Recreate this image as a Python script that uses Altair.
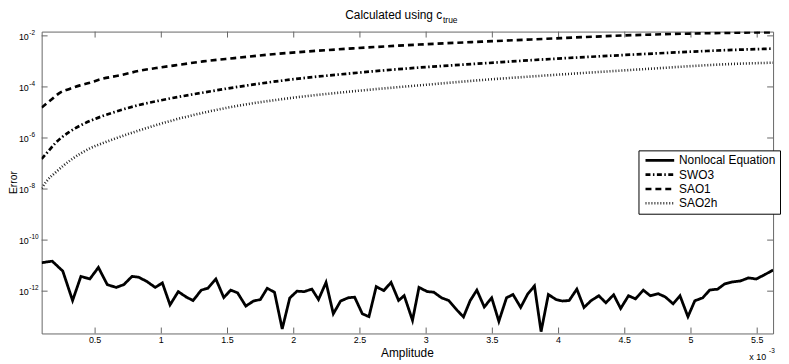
import altair as alt
import pandas as pd

# ---------------- data ----------------
series_order = ["Nonlocal Equation", "SWO3", "SAO1", "SAO2h"]

# Nonlocal Equation (amplitude in units of 1e-3)
amp_nl = [0.0964, 0.176, 0.256, 0.330, 0.393, 0.460, 0.525, 0.592, 0.659, 0.717,
          0.779, 0.829, 0.891, 0.954, 1.008, 1.066, 1.128, 1.190, 1.240, 1.302,
          1.352, 1.412, 1.472, 1.524, 1.576, 1.638, 1.696, 1.748, 1.800, 1.855,
          1.913, 1.970, 2.025, 2.079, 2.137, 2.187, 2.244, 2.299, 2.354, 2.411,
          2.460, 2.518, 2.568, 2.623, 2.680, 2.735, 2.792, 2.834, 2.897, 2.946,
          3.009, 3.058, 3.116, 3.170, 3.233, 3.282, 3.333, 3.383, 3.439, 3.495,
          3.549, 3.607, 3.656, 3.714, 3.768, 3.818, 3.868, 3.923, 3.981, 4.030,
          4.080, 4.138, 4.192, 4.247, 4.304, 4.357, 4.416, 4.469, 4.528, 4.581,
          4.640, 4.693, 4.753, 4.805, 4.865, 4.917, 4.977, 5.029, 5.089, 5.141,
          5.201, 5.253, 5.313, 5.373, 5.433, 5.493, 5.552, 5.620]
err_nl = [1.3e-11, 1.5e-11, 6.1e-12, 4.3e-13, 3.8e-12, 3.0e-12, 8.5e-12, 1.8e-12, 1.4e-12, 1.8e-12,
          3.8e-12, 3.5e-12, 2.4e-12, 1.4e-12, 2.1e-12, 2.9e-13, 9.6e-13, 5.8e-13, 4.3e-13, 1.1e-12,
          1.3e-12, 3.0e-12, 5.6e-13, 1.1e-12, 8.6e-13, 2.6e-13, 4.1e-13, 4.7e-13, 1.3e-12, 9.0e-13,
          3.3e-14, 5.4e-13, 1.0e-12, 9.6e-13, 1.2e-12, 4.7e-13, 2.2e-12, 1.3e-13, 4.1e-13, 5.5e-13,
          5.8e-13, 1.3e-13, 1.0e-13, 1.5e-12, 1.05e-12, 2.2e-12, 4.3e-13, 6.7e-13, 7.2e-14, 1.4e-12,
          9.6e-13, 9.1e-13, 5.5e-13, 4.3e-13, 1.8e-13, 9.8e-14, 4.3e-13, 1.1e-12, 2.4e-13, 5.5e-13,
          6.6e-14, 5.5e-13, 7.4e-13, 2.3e-13, 7.9e-13, 1.6e-12, 2.6e-14, 7.4e-13, 4.7e-13, 4.1e-13,
          4.3e-13, 1.2e-12, 2.3e-13, 4.3e-13, 6.6e-13, 3.5e-13, 7.2e-13, 2.1e-13, 6.6e-13, 5.0e-13,
          1.1e-12, 6.6e-13, 7.9e-13, 6.0e-13, 3.2e-13, 6.6e-13, 1.0e-13, 4.2e-13, 5.5e-13, 1.1e-12,
          1.2e-12, 1.9e-12, 2.3e-12, 2.5e-12, 3.3e-12, 3.0e-12, 4.3e-12, 6.7e-12]

# SWO3
amp_swo3 = [0.0964, 0.15, 0.2, 0.3, 0.4, 0.5, 0.65, 0.8, 1.0, 1.25, 1.5, 1.9,
            2.45, 2.95, 3.45, 3.8, 4.57, 5.32, 5.62]
err_swo3 = [1.51e-7, 3.16e-7, 6.31e-7, 1.66e-6, 3.31e-6, 5.62e-6, 1.05e-5, 1.78e-5,
            3.02e-5, 5.25e-5, 8.7e-5, 1.74e-4, 3.47e-4, 5.75e-4, 8.51e-4, 1.12e-3,
            1.86e-3, 2.82e-3, 3.16e-3]

# SAO1
amp_sao1 = [0.0964, 0.173, 0.236, 0.311, 0.386, 0.460, 0.535, 0.692, 0.842, 1.003,
            1.152, 1.315, 1.552, 1.800, 2.449, 2.947, 3.446, 3.795, 4.566, 5.316, 5.620]
err_sao1 = [1.55e-5, 3.31e-5, 6.03e-5, 8.51e-5, 1.15e-4, 1.45e-4, 1.95e-4, 2.88e-4,
            4.37e-4, 5.89e-4, 7.59e-4, 1.0e-3, 1.35e-3, 1.82e-3, 3.24e-3, 4.57e-3,
            6.03e-3, 7.24e-3, 1.07e-2, 1.32e-2, 1.38e-2]

# SAO2h
amp_sao2h = [0.0964, 0.131, 0.206, 0.330, 0.455, 0.580, 0.829, 1.078, 1.327, 1.576,
             1.925, 2.449, 2.947, 3.446, 3.795, 4.566, 5.316, 5.620]
err_sao2h = [1.07e-8, 1.95e-8, 4.68e-8, 1.55e-7, 3.80e-7, 6.92e-7, 1.95e-6, 4.79e-6,
             1.0e-5, 1.82e-5, 3.39e-5, 6.76e-5, 1.15e-4, 1.91e-4, 2.57e-4, 4.68e-4,
             7.94e-4, 8.91e-4]

x_tick_vals = [0.5, 1, 1.5, 2, 2.5, 3, 3.5, 4, 4.5, 5, 5.5]
x_tick_text = ["0.5", "1", "1.5", "2", "2.5", "3", "3.5", "4", "4.5", "5", "5.5"]
y_tick_vals = [1e-2, 1e-4, 1e-6, 1e-8, 1e-10, 1e-12]
y_tick_exp = ["-2", "-4", "-6", "-8", "-10", "-12"]

# ---------------- build ----------------
W, H = 739, 305
FONT = "Liberation Sans"
AX = "#666666"

nl_df = pd.DataFrame({"amp": amp_nl, "err": err_nl, "series": "Nonlocal Equation"})
smooth_df = pd.concat([
    pd.DataFrame({"amp": amp_swo3, "err": err_swo3, "series": "SWO3"}),
    pd.DataFrame({"amp": amp_sao1, "err": err_sao1, "series": "SAO1"}),
    pd.DataFrame({"amp": amp_sao2h, "err": err_sao2h, "series": "SAO2h"}),
], ignore_index=True)

xs = alt.Scale(domain=[0.0964, 5.62], nice=False, zero=False)
ys = alt.Scale(type="log", domain=[2.2e-14, 1.47e-2], nice=False)

legend = alt.Legend(
    title=None, orient="none", legendX=603, legendY=120,
    symbolType="M-1,0H9", symbolSize=33.6, labelOffset=25,
    labelFont=FONT, labelFontSize=12, labelColor="black",
    fillColor="white", strokeColor="black", padding=4, rowPadding=2.5,
)
color = alt.Color("series:N", scale=alt.Scale(domain=series_order,
                  range=["black", "black", "black", "#222222"]), legend=legend)
dash = alt.StrokeDash("series:N", scale=alt.Scale(domain=series_order,
                      range=[[1, 0], [5, 2.5, 1.5, 2.5], [6, 4], [1, 2]]), legend=legend)
swidth = alt.StrokeWidth("series:N", scale=alt.Scale(domain=series_order,
                         range=[2.8, 2.6, 3.0, 2.2]), legend=legend)

enc = dict(
    x=alt.X("amp:Q", scale=xs, axis=None),
    y=alt.Y("err:Q", scale=ys, axis=None),
    color=color, strokeDash=dash, strokeWidth=swidth,
)

nl_line = alt.Chart(nl_df).mark_line(clip=True).encode(**enc)
smooth_lines = alt.Chart(smooth_df).mark_line(interpolate="monotone", clip=True).encode(**enc)

xt_df = pd.DataFrame({"v": x_tick_vals, "t": x_tick_text})
yt_df = pd.DataFrame({"v": y_tick_vals, "e": y_tick_exp})

xb = alt.X("v:Q", scale=xs, axis=None)
yb = alt.Y("v:Q", scale=ys, axis=None)

tick_bottom = alt.Chart(xt_df).mark_rule(color=AX, strokeWidth=1).encode(
    x=xb, y=alt.value(H), y2=alt.value(H - 6))
tick_top = alt.Chart(xt_df).mark_rule(color=AX, strokeWidth=1).encode(
    x=xb, y=alt.value(0), y2=alt.value(6))
tick_left = alt.Chart(yt_df).mark_rule(color=AX, strokeWidth=1).encode(
    y=yb, x=alt.value(0), x2=alt.value(6))
tick_right = alt.Chart(yt_df).mark_rule(color=AX, strokeWidth=1).encode(
    y=yb, x=alt.value(W), x2=alt.value(W - 6))

x_labels = alt.Chart(xt_df).mark_text(font=FONT, fontSize=9, color="black",
                                      baseline="alphabetic", align="center").encode(
    x=xb, y=alt.value(315), text="t:N")
y_lab10 = alt.Chart(yt_df).mark_text(font=FONT, fontSize=9, color="black",
                                     baseline="middle", align="left", dy=1).encode(
    y=yb, x=alt.value(-23), text=alt.value("10"))
y_labexp = alt.Chart(yt_df).mark_text(font=FONT, fontSize=6.5, color="black",
                                      baseline="middle", align="left", dy=-3).encode(
    y=yb, x=alt.value(-12.5), text="e:N")

one = pd.DataFrame({"k": [0]})
def txt(s, x, y, size, align="left", angle=0, baseline="alphabetic"):
    return alt.Chart(one).mark_text(font=FONT, fontSize=size, color="black",
                                    align=align, baseline=baseline, angle=angle).encode(
        x=alt.value(x), y=alt.value(y), text=alt.value(s))

title_main = txt("Calculated using c", 404.7, -13, 12, align="right")
title_sub = txt("true", 405.5, -8.3, 8.5)
x_title = txt("Amplitude", 369.5, 328.3, 12, align="center")
x_mult = txt("x 10", 715, 332.3, 9)
x_mult_exp = txt("-3", 735, 325, 6.5)
y_title = txt("Error", -24.5, 152.5, 10.5, align="center", angle=270)

chart = alt.layer(
    tick_bottom, tick_top, tick_left, tick_right,
    smooth_lines, nl_line,
    x_labels, y_lab10, y_labexp,
    title_main, title_sub, x_title, x_mult, x_mult_exp, y_title,
).properties(
    width=W, height=H,
    padding={"left": 34, "top": 22, "right": 8, "bottom": 29},
    autosize=alt.AutoSizeParams(type="none"),
    background="white",
).configure_view(stroke=AX, strokeWidth=1)

chart.save("out.html", embed_options={"renderer": "svg", "actions": False})
